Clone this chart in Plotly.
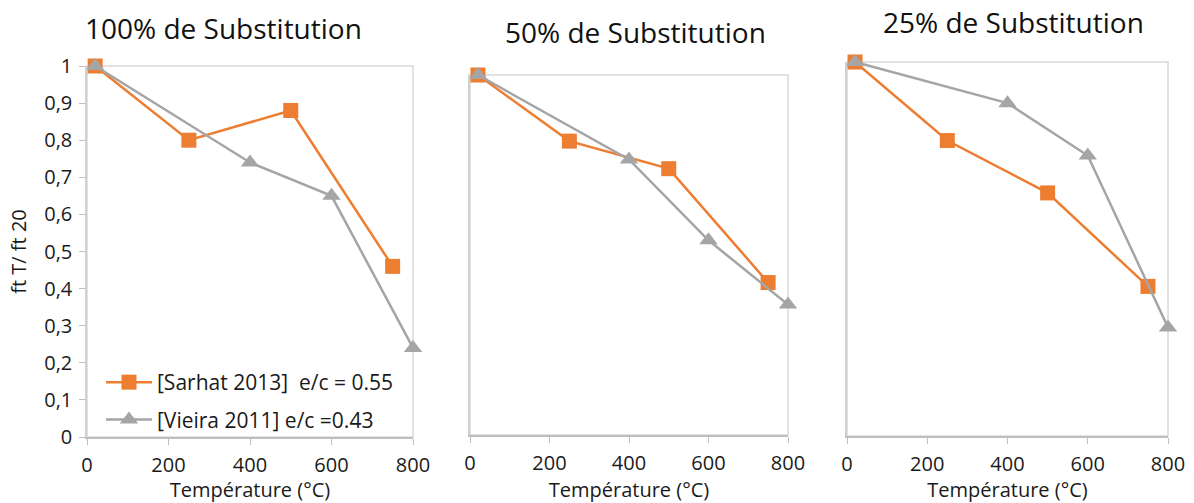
import plotly.graph_objects as go

# ---- data ----
temp_sarhat = [20, 250, 500, 750]
temp_vieira = [20, 400, 600, 800]

sarhat_100 = [1.00, 0.80, 0.88, 0.46]
vieira_100 = [1.00, 0.74, 0.65, 0.24]

sarhat_50 = [0.98, 0.80, 0.725, 0.415]
vieira_50 = [0.98, 0.75, 0.53, 0.355]

sarhat_25 = [1.00, 0.79, 0.65, 0.40]
vieira_25 = [1.00, 0.89, 0.75, 0.29]

panel_titles = ["100% de Substitution", "50% de Substitution", "25% de Substitution"]
name_sarhat = "[Sarhat 2013]  e/c = 0.55"
name_vieira = "[Vieira 2011] e/c =0.43"
x_title = "Température (°C)"
y_title = "ft T/ ft 20"

x_tickvals = [0, 200, 400, 600, 800]
y_tickvals = [0, 0.1, 0.2, 0.3, 0.4, 0.5, 0.6, 0.7, 0.8, 0.9, 1]
y_ticktext = ["0", "0,1", "0,2", "0,3", "0,4", "0,5", "0,6", "0,7", "0,8", "0,9", "1"]

# ---- layout geometry (pixels in 1194x503 canvas) ----
W, H = 1194, 503
panels_px = [  # x0, x1, ytop, ybottom
    (87, 413, 66, 437),
    (470, 788, 75, 435),
    (847, 1168, 62, 436),
]
y_ranges = [[0, 1], [0, 0.98], [0, 1]]
title_pos = [(223, 28), (635, 32), (1013, 22)]

ORANGE = "#ED7D31"
GRAY = "#A5A5A5"
FONT = "Open Sans"
TXT = "#1a1a1a"

fig = go.Figure()

series = [(sarhat_100, vieira_100), (sarhat_50, vieira_50), (sarhat_25, vieira_25)]
for i, (s, v) in enumerate(series):
    xa = "x" if i == 0 else f"x{i+1}"
    ya = "y" if i == 0 else f"y{i+1}"
    fig.add_trace(go.Scatter(
        x=temp_sarhat, y=s, mode="lines+markers", name=name_sarhat,
        line=dict(color=ORANGE, width=2.5),
        marker=dict(symbol="square", size=15, color=ORANGE),
        xaxis=xa, yaxis=ya, showlegend=(i == 0), cliponaxis=False,
        legendgroup="s",
    ))
    fig.add_trace(go.Scatter(
        x=temp_vieira, y=v, mode="lines+markers", name=name_vieira,
        line=dict(color=GRAY, width=2.5),
        marker=dict(symbol="triangle-up", size=16, color=GRAY),
        xaxis=xa, yaxis=ya, showlegend=(i == 0), cliponaxis=False,
        legendgroup="v",
    ))

layout = dict(
    width=W, height=H,
    margin=dict(l=0, r=0, t=0, b=0, autoexpand=False),
    paper_bgcolor="white", plot_bgcolor="white",
    font=dict(family=FONT, size=20, color=TXT),
    legend=dict(
        x=101 / W, y=1 - 362 / H, xanchor="left", yanchor="top",
        bgcolor="rgba(0,0,0,0)", font=dict(size=21, color=TXT),
        traceorder="grouped", tracegroupgap=7, itemwidth=46,
    ),
    shapes=[], annotations=[],
)

for i, (x0, x1, yt, yb) in enumerate(panels_px):
    sfx = "" if i == 0 else str(i + 1)
    layout[f"xaxis{sfx}"] = dict(
        domain=[x0 / W, x1 / W], anchor=f"y{sfx}", range=[0, 800],
        tickvals=x_tickvals, ticks="outside", ticklen=6, tickcolor="#bfbfbf",
        showline=True, linecolor="#bfbfbf", linewidth=1.5, showgrid=False, zeroline=False,
        tickfont=dict(size=20), ticklabelstandoff=3, automargin=False,
        title=dict(text=x_title, font=dict(size=20), standoff=5),
    )
    yax = dict(
        domain=[1 - yb / H, 1 - yt / H], anchor=f"x{sfx}", range=y_ranges[i],
        showline=True, linecolor="#d0d0d0", linewidth=1.5, showgrid=False, zeroline=False,
        automargin=False,
    )
    if i == 0:
        yax.update(tickvals=y_tickvals, ticktext=y_ticktext, ticks="outside", ticklen=6,
                   tickcolor="#bfbfbf", tickfont=dict(size=20), ticklabelstandoff=3,
                   title=dict(text=y_title, font=dict(size=20), standoff=12))
    else:
        yax.update(showticklabels=False, ticks="")
    layout[f"yaxis{sfx}"] = yax
    layout["shapes"].append(dict(
        type="rect", xref=f"x{sfx} domain", yref=f"y{sfx} domain",
        x0=0, x1=1, y0=0, y1=1, line=dict(color="#d9d9d9", width=1.5), layer="below",
    ))
    tx, ty = title_pos[i]
    layout["annotations"].append(dict(
        text=panel_titles[i], x=tx / W, y=1 - ty / H, xref="paper", yref="paper",
        xanchor="center", yanchor="middle", showarrow=False,
        font=dict(size=28, color="#111111", family=FONT),
    ))

fig.update_layout(**layout)
fig.write_html(
    "out.html",
    config={"displayModeBar": False},
    post_script="document.body.style.margin='0';document.body.style.overflow='hidden';",
)
